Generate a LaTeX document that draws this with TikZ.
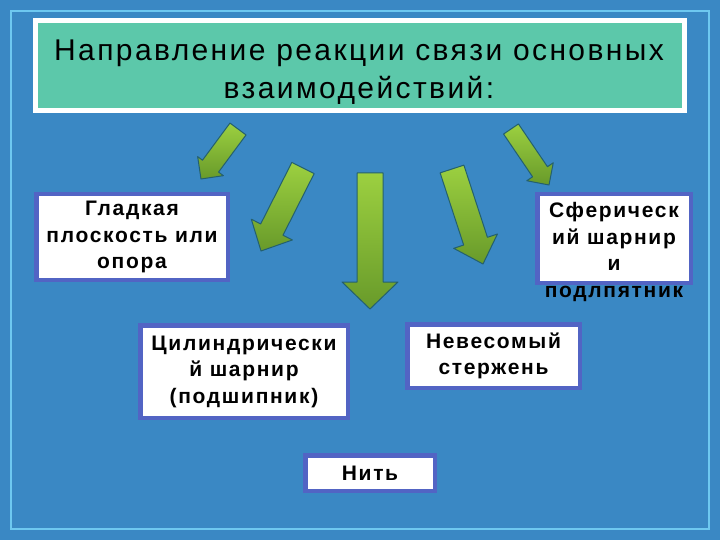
\documentclass[tikz,border=0pt]{standalone}
\usepackage{fontspec}
\setmainfont{Liberation Sans}
\newfontfamily\ttlfont[LetterSpace=8]{Liberation Sans}
\newfontfamily\boxfont[LetterSpace=8]{Liberation Sans Bold}
\usetikzlibrary{calc}

\definecolor{bgblue}{RGB}{58,136,196}
\definecolor{framecyan}{RGB}{110,200,240}
\definecolor{ttlteal}{RGB}{92,200,170}
\definecolor{boxblue}{RGB}{82,100,196}
\definecolor{arrlight}{RGB}{156,208,64}
\definecolor{arrdark}{RGB}{104,154,42}
\definecolor{arredge}{RGB}{36,96,110}

\newcommand\boxtxt{\boxfont\fontsize{21}{26.5}\selectfont}
% tail, tip, half shaft, half head, head length
\newcommand\garrow[5]{%
  \coordinate (neck) at ($(#2)!#5!(#1)$);
  \shadedraw[arrowfill] ($(#1)!#3!90:(#2)$) -- ($(neck)!#3!-90:(#1)$)
    -- ($(neck)!#4!-90:(#1)$) -- (#2) -- ($(neck)!#4!90:(#1)$)
    -- ($(neck)!#3!90:(#1)$) -- ($(#1)!#3!-90:(#2)$) -- cycle;
}

\begin{document}
\begin{tikzpicture}[x=1pt,y=-1pt,
  box/.style={draw=boxblue,line width=4.5pt,fill=white,inner sep=0pt,align=center,font=\boxtxt},
  arrowfill/.style={top color=arrlight,bottom color=arrdark,draw=arredge,line width=1pt,line join=round}]
 \fill[bgblue] (0,0) rectangle (720,540);
 \draw[framecyan,line width=1.5pt] (11,11) rectangle (709,529);

 \node[draw=white,line width=5pt,fill=ttlteal,minimum width=649pt,minimum height=90pt] (tbox) at (360,65.5) {};
 \node[align=center,inner sep=0pt,font=\ttlfont\fontsize{30}{38}\selectfont] (ttl) at (359,72)
   {Направление реакции связи основных\\взаимодействий:};

 \coordinate (t1) at (238,129); \coordinate (h1) at (201,179);
 \coordinate (t2) at (303,168); \coordinate (h2) at (261,251);
 \coordinate (t3) at (370,173); \coordinate (h3) at (370,309);
 \coordinate (t4) at (452,169); \coordinate (h4) at (483,264);
 \coordinate (t5) at (511,129); \coordinate (h5) at (549,185);
 \garrow{t1}{h1}{10pt}{16pt}{16pt}
 \garrow{t2}{h2}{12.5pt}{23pt}{24pt}
 \garrow{t3}{h3}{13pt}{28pt}{27pt}
 \garrow{t4}{h4}{12.5pt}{23pt}{24pt}
 \garrow{t5}{h5}{9pt}{16pt}{16pt}

 \node[box,minimum width=191.5pt,minimum height=85.5pt] (glad) at (132,237) {Гладкая\\плоскость или\\опора};
 \node[box,minimum width=153.5pt,minimum height=88.5pt] (sph) at (614,238.5) {};
 \node[font=\boxtxt,align=center,anchor=north,inner sep=0pt] (sphtxt) at (614,202.5)
   {Сферическ\\ий шарнир\\и\\подлпятник};
 \node[box,minimum width=207.5pt,minimum height=92.5pt] (cyl) at (244,371.5) {Цилиндрически\\й шарнир\\(подшипник)};
 \node[box,minimum width=172.5pt,minimum height=63.5pt] (rod) at (493.5,356) {Невесомый\\стержень};
 \node[box,minimum width=129.5pt,minimum height=35.5pt] (thread) at (370,473) {Нить};
\end{tikzpicture}
\end{document}
